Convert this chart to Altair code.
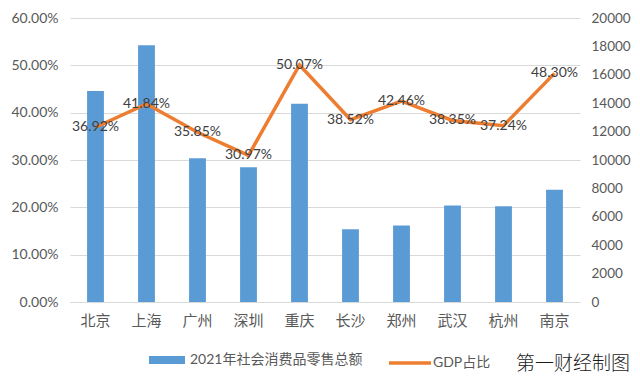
import altair as alt
import pandas as pd

cities = ["北京", "上海", "广州", "深圳", "重庆", "长沙", "郑州", "武汉", "杭州", "南京"]
retail = [14867.7, 18079.2, 10122.6, 9498.1, 13967.7, 5117.0, 5389.0, 6795.0, 6744.0, 7899.4]
gdp_share = [0.3692, 0.4184, 0.3585, 0.3097, 0.5007, 0.3852, 0.4246, 0.3835, 0.3724, 0.4830]
bar_series = "2021年社会消费品零售总额"
line_series = "GDP占比"
left_ticks = [0.0, 0.1, 0.2, 0.3, 0.4, 0.5, 0.6]
right_ticks = [0, 2000, 4000, 6000, 8000, 10000, 12000, 14000, 16000, 18000, 20000]
watermark = "第一财经制图"

df = pd.DataFrame({
    "city": cities,
    "retail": retail,
    "share": gdp_share,
    "idx": list(range(len(cities))),
    "bs": [bar_series] * len(cities),
    "ls": [line_series] * len(cities),
})

FONT = "Lato, 'Noto Sans CJK SC', sans-serif"
BLUE = "#5B9BD5"
ORANGE = "#ED7D31"
GRAY = "#595959"

x = alt.X(
    "city:N", sort=cities, title=None,
    scale=alt.Scale(paddingInner=0.67, paddingOuter=0.335),
    axis=alt.Axis(labelAngle=0, labelFontSize=15, labelColor=GRAY, labelPadding=11,
                  ticks=False, domainColor="#d9d9d9", domainWidth=1, labelFont=FONT),
)

bars = alt.Chart(df).mark_bar(color=BLUE).encode(
    x=x,
    y=alt.Y("retail:Q", title=None,
            scale=alt.Scale(domain=[0, 20000], nice=False),
            axis=alt.Axis(orient="right", values=right_ticks, format="d", grid=False,
                          domain=False, ticks=False, labelFontSize=13.5, labelColor=GRAY,
                          labelPadding=11, labelFont=FONT)),
    fill=alt.Fill("bs:N", scale=alt.Scale(domain=[bar_series], range=[BLUE]),
                  legend=alt.Legend(orient="none", legendX=79, legendY=324, title=None,
                                    symbolType="M-1,-0.222H1V0.222H-1Z", symbolSize=1296,
                                    symbolStrokeWidth=0, labelFontSize=14, labelColor=GRAY,
                                    labelFont=FONT, labelOffset=5, labelLimit=400,
                                    padding=0)),
)

yshare = alt.Y("share:Q", title=None,
               scale=alt.Scale(domain=[0, 0.6], nice=False),
               axis=alt.Axis(orient="left", values=left_ticks, format=".2%", grid=True,
                             gridColor="#d9d9d9", gridWidth=1, domain=False, ticks=False,
                             labelFontSize=14, labelColor=GRAY, labelPadding=12,
                             labelFont=FONT))

line = alt.Chart(df).mark_line(color=ORANGE, strokeWidth=3.5).encode(
    x=x,
    y=yshare,
    order=alt.Order("idx:Q"),
    stroke=alt.Stroke("ls:N", scale=alt.Scale(domain=[line_series], range=[ORANGE]),
                      legend=alt.Legend(orient="none", legendX=317, legendY=322, title=None,
                                        symbolType="stroke", symbolSize=1764,
                                        symbolStrokeWidth=3.5, labelFontSize=14,
                                        labelColor=GRAY, labelFont=FONT, labelOffset=0,
                                        labelLimit=200, padding=0)),
)

labels = alt.Chart(df).mark_text(fontSize=14, color="#404040", font=FONT).encode(
    x=x,
    y=yshare,
    text=alt.Text("share:Q", format=".2%"),
)

chart = alt.layer(bars, alt.layer(line, labels)).resolve_scale(y="independent").properties(
    width=510,
    height=284,
    autosize="none",
    padding={"left": 62, "top": 10, "right": 52, "bottom": 72},
    background="white",
    title=alt.TitleParams(watermark, orient="bottom", anchor="end", frame="group", dx=50,
                          offset=-15, fontSize=19, font="'Noto Sans CJK SC'",
                          fontWeight=300, color="#1a1a1a"),
).configure_view(stroke=None)

chart.save("out.html", embed_options={"renderer": "svg", "actions": False})
